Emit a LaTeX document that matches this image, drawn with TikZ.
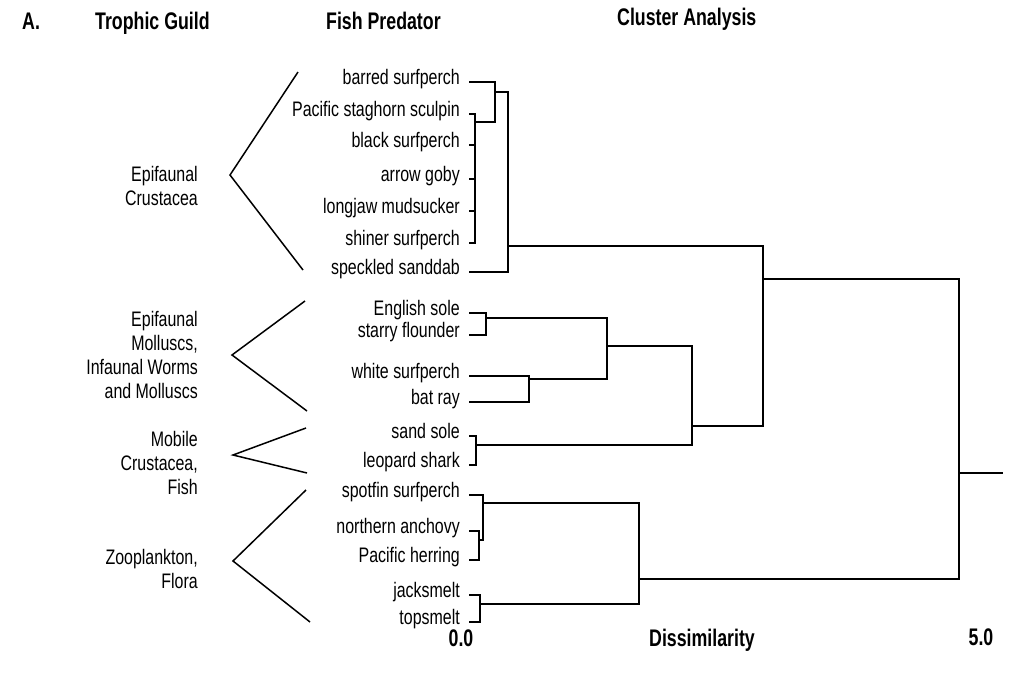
\documentclass[tikz,border=0pt]{standalone}
\usepackage{fontspec}
\newfontfamily\myBodyFF{Liberation Sans}[FakeStretch=0.76]
\newfontfamily\myHeadFF{Liberation Sans}[FakeStretch=0.74]
\newcommand\myBody{\myBodyFF\fontsize{21}{24}\selectfont}
\newcommand\myHead{\myHeadFF\bfseries\fontsize{24}{28}\selectfont}
\begin{document}
\begin{tikzpicture}[x=1pt,y=-1pt,
  lab/.style={anchor=base east, inner sep=0pt, font=\myBody},
  guild/.style={anchor=east, align=right, inner sep=0pt, font=\myBody},
  hdr/.style={anchor=base west, inner sep=0pt, font=\myHead},
  axl/.style={anchor=base, inner sep=0pt, font=\myHead},
  dend/.style={line width=1.9pt},
  fan/.style={line width=1.5pt, line join=miter}]
\useasboundingbox[fill=white] (0,0) rectangle (1018,683);

% headers
\node[hdr] (hA) at (22,29) {A.};
\node[hdr] (hT) at (95,29) {Trophic Guild};
\node[hdr] (hF) at (326,29) {Fish Predator};
\node[hdr] (hC) at (617,25) {Cluster Analysis};

% axis labels
\node[axl] (a0) at (461,646) {0.0};
\node[axl] (aD) at (702,646) {Dissimilarity};
\node[axl] (a5) at (981,645) {5.0};

% guild labels
\node[guild] (g1) at (198,186) {Epifaunal\\Crustacea};
\node[guild] (g2) at (198,355) {Epifaunal\\Molluscs,\\Infaunal Worms\\and Molluscs};
\node[guild] (g3) at (198,463) {Mobile\\Crustacea,\\Fish};
\node[guild] (g4) at (198,569) {Zooplankton,\\Flora};

% fans
\coordinate (f1a) at (298,72);  \coordinate (f1b) at (230,175); \coordinate (f1c) at (303,270);
\coordinate (f2a) at (305,301); \coordinate (f2b) at (232,355); \coordinate (f2c) at (307,411);
\coordinate (f3a) at (306,428); \coordinate (f3b) at (233,455); \coordinate (f3c) at (307,473);
\coordinate (f4a) at (306,490); \coordinate (f4b) at (233,561); \coordinate (f4c) at (310,622);
\draw[fan] (f1a) -- (f1b) -- (f1c);
\draw[fan] (f2a) -- (f2b) -- (f2c);
\draw[fan] (f3a) -- (f3b) -- (f3c);
\draw[fan] (f4a) -- (f4b) -- (f4c);

% fish labels
\node[lab] (l1)  at (460,84)  {barred surfperch};
\node[lab] (l2)  at (460,116) {Pacific staghorn sculpin};
\node[lab] (l3)  at (460,147) {black surfperch};
\node[lab] (l4)  at (460,181) {arrow goby};
\node[lab] (l5)  at (460,213) {longjaw mudsucker};
\node[lab] (l6)  at (460,245) {shiner surfperch};
\node[lab] (l7)  at (460,274) {speckled sanddab};
\node[lab] (l8)  at (460,315) {English sole};
\node[lab] (l9)  at (460,337) {starry flounder};
\node[lab] (l10) at (460,378) {white surfperch};
\node[lab] (l11) at (460,404) {bat ray};
\node[lab] (l12) at (460,438) {sand sole};
\node[lab] (l13) at (460,467) {leopard shark};
\node[lab] (l14) at (460,497) {spotfin surfperch};
\node[lab] (l15) at (460,533) {northern anchovy};
\node[lab] (l16) at (460,562) {Pacific herring};
\node[lab] (l17) at (460,597) {jacksmelt};
\node[lab] (l18) at (460,624) {topsmelt};

\foreach \i in {1,...,18} {\coordinate (t\i) at ([xshift=9pt]l\i.mid east);}

% x positions of the vertical bars
\coordinate (xA) at (475,0);   \coordinate (xA2) at (495,0);  \coordinate (xA3) at (508,0);
\coordinate (xB) at (486,0);   \coordinate (xC) at (529,0);   \coordinate (xBC) at (607,0);
\coordinate (xD) at (476,0);   \coordinate (xBCD) at (692,0); \coordinate (xM) at (763,0);
\coordinate (xE) at (479,0);   \coordinate (xE2) at (483,0);  \coordinate (xF) at (480,0);
\coordinate (xEF) at (639,0);  \coordinate (xR) at (959,0);

% junctions
\coordinate (jA) at (475,122);   \coordinate (jA2) at (495,92);   \coordinate (jAll) at (508,246);
\coordinate (jB) at (486,318);   \coordinate (jC) at (529,379);   \coordinate (jBC) at (607,346);
\coordinate (jD) at (476,445);   \coordinate (jBCD) at (692,426); \coordinate (jM) at (763,279);
\coordinate (jE) at (479,540);   \coordinate (jE2) at (483,503);  \coordinate (jF) at (480,604);
\coordinate (jEF) at (639,579);  \coordinate (jR) at (959,473);   \coordinate (root) at (1003,473);

% epifaunal crustacea cluster
\draw[dend] (t2) -- (t2-|xA) -- (t6-|xA) -- (t6);
\foreach \i in {3,4,5} {\draw[dend] (t\i) -- (t\i-|xA);}
\draw[dend] (t1) -| (jA-|xA2) -- (jA);
\draw[dend] (jA2) -- (jA2-|xA3) |- (t7);
\draw[dend] (jAll) -| (jBCD-|xM) -- (jBCD);

% middle cluster
\draw[dend] (t8) -| (t9-|xB) -- (t9);
\draw[dend] (t10) -| (t11-|xC) -- (t11);
\draw[dend] (jB) -| (jC-|xBC) -- (jC);
\draw[dend] (t12) -| (t13-|xD) -- (t13);
\draw[dend] (jBC) -| (jD-|xBCD) -- (jD);

% bottom cluster
\draw[dend] (t15) -| (t16-|xE) -- (t16);
\draw[dend] (t14) -| (jE-|xE2) -- (jE);
\draw[dend] (t17) -| (t18-|xF) -- (t18);
\draw[dend] (jE2) -| (jF-|xEF) -- (jF);

% top level
\draw[dend] (jM) -| (jEF-|xR) -- (jEF);
\draw[dend] (jR) -- (root);
\end{tikzpicture}
\end{document}
